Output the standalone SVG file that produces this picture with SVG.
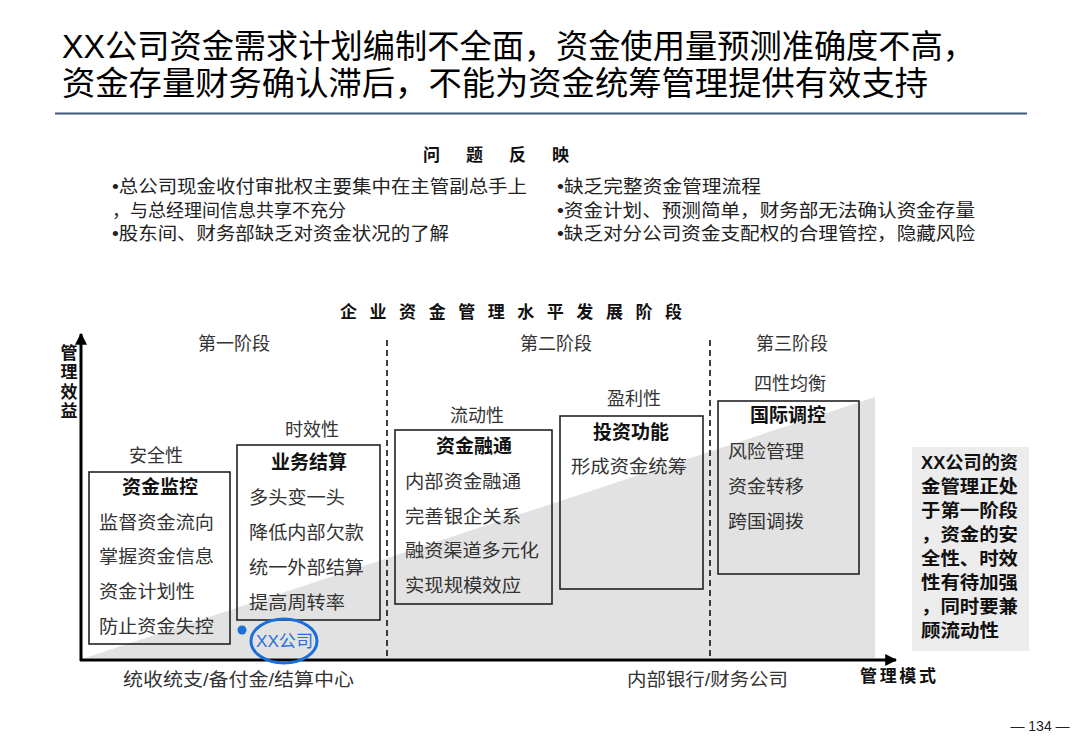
<svg xmlns="http://www.w3.org/2000/svg" width="1080" height="748" viewBox="0 0 1080 748">
<defs>
<marker id="arr" viewBox="0 0 10 10" refX="9" refY="5" markerWidth="4" markerHeight="4" orient="auto" markerUnits="strokeWidth"><path d="M0,0 L10,5 L0,10 Z" fill="#000"/></marker>
<style>
.cjk{font-family:"Liberation Sans","Noto Sans CJK SC",sans-serif;}
.title{font-size:33px;fill:#000;}
.hd{font-size:17px;font-weight:bold;fill:#111;}
.bul{font-size:18px;fill:#222;}
.stage{font-size:18px;fill:#333;}
.prop{font-size:18px;fill:#333;}
.bh{font-size:19px;font-weight:bold;fill:#111;}
.it{font-size:18px;fill:#333;}
.box{fill:none;stroke:#222;stroke-width:1.6;}
.note{font-size:18px;font-weight:bold;fill:#111;}
.dash{stroke:#111;stroke-width:1.6;stroke-dasharray:6,4;}
</style>
</defs>
<rect width="1080" height="748" fill="#fff"/>
<g id="title" class="cjk">
<text class="title" x="62" y="58" textLength="913" lengthAdjust="spacingAndGlyphs">XX公司资金需求计划编制不全面，资金使用量预测准确度不高，</text>
<text class="title" x="62" y="95" textLength="866" lengthAdjust="spacingAndGlyphs">资金存量财务确认滞后，不能为资金统筹管理提供有效支持</text>
<line x1="55" y1="113.5" x2="1027" y2="113.5" stroke="#3d5a80" stroke-width="2"/>
</g>
<g id="problems" class="cjk">
<text class="hd" x="423" y="161" textLength="146" lengthAdjust="spacing">问题反映</text>
<text class="bul" x="112" y="193" textLength="415" lengthAdjust="spacingAndGlyphs">•总公司现金收付审批权主要集中在主管副总手上</text>
<text class="bul" x="112" y="217">，与总经理间信息共享不充分</text>
<text class="bul" x="112" y="240" textLength="337" lengthAdjust="spacingAndGlyphs">•股东间、财务部缺乏对资金状况的了解</text>
<text class="bul" x="557" y="193" textLength="204" lengthAdjust="spacingAndGlyphs">•缺乏完整资金管理流程</text>
<text class="bul" x="557" y="217" textLength="418" lengthAdjust="spacingAndGlyphs">•资金计划、预测简单，财务部无法确认资金存量</text>
<text class="bul" x="557" y="240" textLength="418" lengthAdjust="spacingAndGlyphs">•缺乏对分公司资金支配权的合理管控，隐藏风险</text>
</g>
<g id="chart-title" class="cjk">
<text class="hd" x="340" y="318" textLength="342" lengthAdjust="spacing">企业资金管理水平发展阶段</text>
</g>
<polygon id="trend" points="85,658 875,397 875,658" fill="#e2e2e2"/>
<g id="stages" class="cjk">
<text class="stage" x="234" y="350" text-anchor="middle">第一阶段</text>
<text class="stage" x="556" y="350" text-anchor="middle">第二阶段</text>
<text class="stage" x="792" y="350" text-anchor="middle">第三阶段</text>
<line class="dash" x1="387" y1="340" x2="387" y2="659"/>
<line class="dash" x1="710" y1="340" x2="710" y2="659"/>
</g>
<g id="connectors">
<line x1="81" y1="661" x2="81" y2="334" stroke="#000" stroke-width="3" marker-end="url(#arr)"/>
<line x1="80" y1="660" x2="896" y2="660" stroke="#000" stroke-width="3" marker-end="url(#arr)"/>
</g>
<g id="axis-labels" class="cjk">
<text class="hd" x="67" y="344" style="writing-mode:vertical-rl;letter-spacing:2.5px" text-anchor="start">管理效益</text>
<text class="hd" x="860" y="682" textLength="76" lengthAdjust="spacing">管理模式</text>
<text class="it" x="123" y="686" textLength="231" lengthAdjust="spacingAndGlyphs">统收统支/备付金/结算中心</text>
<text class="it" x="627" y="686" textLength="161" lengthAdjust="spacingAndGlyphs">内部银行/财务公司</text>
</g>
<g id="node-monitor" class="cjk">
<text class="prop" x="156" y="462" text-anchor="middle">安全性</text>
<rect class="box" x="89" y="472" width="141" height="172"/>
<text class="bh" x="160" y="494" text-anchor="middle">资金监控</text>
<text class="it" x="99" y="529" textLength="115" lengthAdjust="spacingAndGlyphs">监督资金流向</text>
<text class="it" x="99" y="563" textLength="115" lengthAdjust="spacingAndGlyphs">掌握资金信息</text>
<text class="it" x="99" y="598" textLength="96" lengthAdjust="spacingAndGlyphs">资金计划性</text>
<text class="it" x="99" y="633" textLength="115" lengthAdjust="spacingAndGlyphs">防止资金失控</text>
</g>
<g id="node-settle" class="cjk">
<text class="prop" x="312" y="436" text-anchor="middle">时效性</text>
<rect class="box" x="237" y="445" width="143" height="175"/>
<text class="bh" x="309" y="469" text-anchor="middle">业务结算</text>
<text class="it" x="249" y="504" textLength="96" lengthAdjust="spacingAndGlyphs">多头变一头</text>
<text class="it" x="249" y="539" textLength="115" lengthAdjust="spacingAndGlyphs">降低内部欠款</text>
<text class="it" x="249" y="574" textLength="115" lengthAdjust="spacingAndGlyphs">统一外部结算</text>
<text class="it" x="249" y="609" textLength="96" lengthAdjust="spacingAndGlyphs">提高周转率</text>
</g>
<g id="node-xx" class="cjk">
<circle cx="242" cy="630" r="4.5" fill="#1a6fd8"/>
<ellipse cx="284" cy="641" rx="33" ry="22" fill="none" stroke="#1a6fd8" stroke-width="3"/>
<text x="256" y="647" font-size="17" fill="#2a6fd6" textLength="57" lengthAdjust="spacingAndGlyphs">XX公司</text>
</g>
<g id="node-finance" class="cjk">
<text class="prop" x="477" y="422" text-anchor="middle">流动性</text>
<rect class="box" x="395" y="430" width="157" height="174"/>
<text class="bh" x="474" y="453" text-anchor="middle">资金融通</text>
<text class="it" x="405" y="488" textLength="116" lengthAdjust="spacingAndGlyphs">内部资金融通</text>
<text class="it" x="405" y="523" textLength="116" lengthAdjust="spacingAndGlyphs">完善银企关系</text>
<text class="it" x="405" y="557" textLength="134" lengthAdjust="spacingAndGlyphs">融资渠道多元化</text>
<text class="it" x="405" y="592" textLength="116" lengthAdjust="spacingAndGlyphs">实现规模效应</text>
</g>
<g id="node-invest" class="cjk">
<text class="prop" x="634" y="405" text-anchor="middle">盈利性</text>
<rect class="box" x="560" y="416" width="143" height="173"/>
<text class="bh" x="631" y="439" text-anchor="middle">投资功能</text>
<text class="it" x="571" y="473" textLength="116" lengthAdjust="spacingAndGlyphs">形成资金统筹</text>
</g>
<g id="node-intl" class="cjk">
<text class="prop" x="790" y="390" text-anchor="middle">四性均衡</text>
<rect class="box" x="718" y="401" width="141" height="173"/>
<text class="bh" x="788" y="422" text-anchor="middle">国际调控</text>
<text class="it" x="728" y="458" textLength="76" lengthAdjust="spacingAndGlyphs">风险管理</text>
<text class="it" x="728" y="493" textLength="76" lengthAdjust="spacingAndGlyphs">资金转移</text>
<text class="it" x="728" y="528" textLength="76" lengthAdjust="spacingAndGlyphs">跨国调拨</text>
</g>
<g id="note" class="cjk">
<rect x="912" y="447" width="117" height="204" fill="#ececec"/>
<text class="note" x="921" y="469" textLength="97" lengthAdjust="spacingAndGlyphs">XX公司的资</text>
<text class="note" x="921" y="493" textLength="97" lengthAdjust="spacingAndGlyphs">金管理正处</text>
<text class="note" x="921" y="517" textLength="97" lengthAdjust="spacingAndGlyphs">于第一阶段</text>
<text class="note" x="921" y="541" textLength="97" lengthAdjust="spacingAndGlyphs">，资金的安</text>
<text class="note" x="921" y="565" textLength="97" lengthAdjust="spacingAndGlyphs">全性、时效</text>
<text class="note" x="921" y="589" textLength="97" lengthAdjust="spacingAndGlyphs">性有待加强</text>
<text class="note" x="921" y="613" textLength="97" lengthAdjust="spacingAndGlyphs">，同时要兼</text>
<text class="note" x="921" y="637" textLength="78" lengthAdjust="spacingAndGlyphs">顾流动性</text>
</g>
<g id="page">
<text x="1040" y="731" font-family="Liberation Sans, sans-serif" font-size="14" fill="#222" text-anchor="middle">— 134 —</text>
</g>
</svg>
